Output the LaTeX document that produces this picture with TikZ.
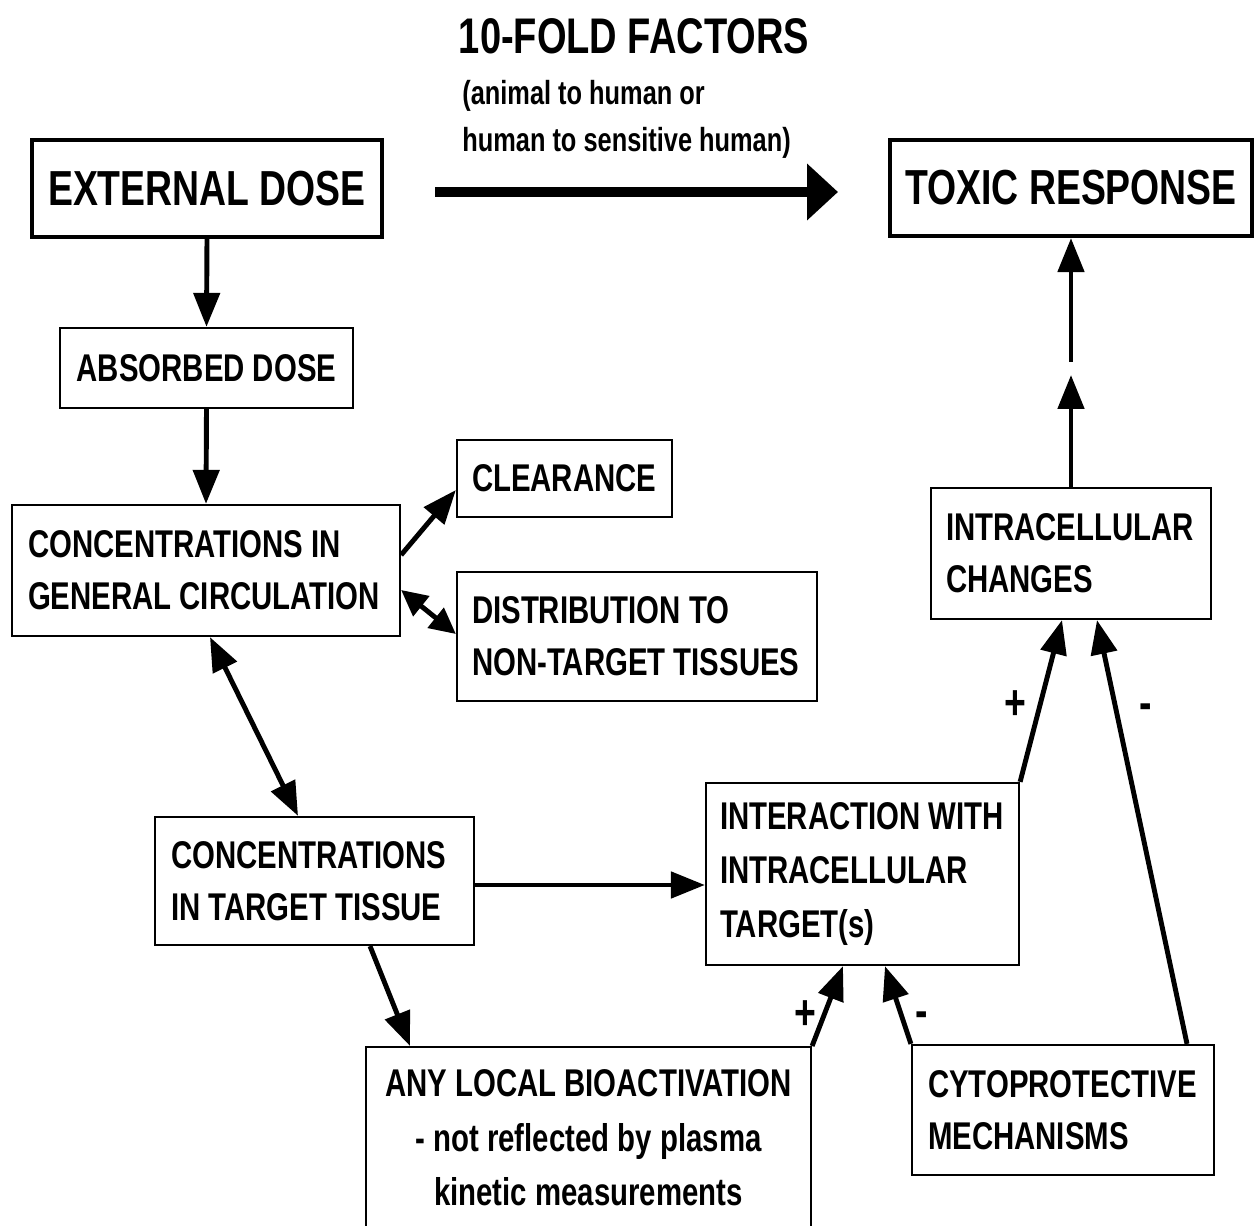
\documentclass[tikz,border=0pt]{standalone}
\usepackage{fontspec}
\setmainfont{Liberation Sans}[FakeStretch=0.76]
\usetikzlibrary{arrows.meta}
\begin{document}
\begin{tikzpicture}[x=0.02cm,y=-0.02cm,
  txt/.style={font=\bfseries\fontsize{22}{29.8}\selectfont},
  box/.style={txt, draw, line width=1.3pt, inner ysep=0pt},
  bigbox/.style={draw, line width=2.4pt, inner sep=0pt, font=\bfseries\fontsize{28}{34}\selectfont},
  arr/.style={line width=2.8pt, -{Triangle[length=0.68cm,width=0.52cm]}},
  darr/.style={line width=2.8pt, {Triangle[length=0.68cm,width=0.52cm]}-{Triangle[length=0.68cm,width=0.52cm]}},
  sdarr/.style={line width=2.8pt, {Triangle[length=0.52cm,width=0.5cm]}-{Triangle[length=0.52cm,width=0.5cm]}},
  sign/.style={font=\bfseries\fontsize{28}{30}\selectfont, inner sep=0pt}
]
\useasboundingbox (0,0) rectangle (1259,1226);

% title
\node[font=\bfseries\fontsize{28.5}{34}\selectfont, inner sep=0pt] (title) at (634,36) {10-FOLD FACTORS};
\node[anchor=north west, align=flush left, inner sep=0pt, font=\bfseries\fontsize{19}{26.7}\selectfont] (sub) at (462,80) {(animal to human or\\human to sensitive human)};

% boxes
\node[bigbox, minimum width=7cm, minimum height=1.94cm] (ext) at (207,188.5) {EXTERNAL DOSE};
\node[bigbox, minimum width=7.24cm, minimum height=1.92cm] (tox) at (1071,188) {TOXIC RESPONSE};
\node[box, inner xsep=0pt, minimum width=5.86cm, minimum height=1.6cm] (abs) at (206.5,368) {ABSORBED DOSE};
\node[box, inner xsep=0.32cm, text width=7.12cm, minimum height=2.62cm, align=flush left] (gen) at (206,570.5) {CONCENTRATIONS IN\\GENERAL CIRCULATION};
\node[box, inner xsep=0.3cm, text width=3.7cm, minimum height=1.54cm, align=flush left] (clr) at (564.5,478.5) {CLEARANCE};
\node[box, inner xsep=0.3cm, text width=6.6cm, minimum height=2.58cm, align=flush left] (dist) at (637,636.5) {DISTRIBUTION TO\\NON-TARGET TISSUES};
\node[box, inner xsep=0.32cm, text width=5.74cm, minimum height=2.56cm, align=flush left] (tgt) at (314.5,881) {CONCENTRATIONS\\IN TARGET TISSUE};
\node[box, inner xsep=0.28cm, text width=5.7cm, minimum height=3.64cm, align=flush left, font=\bfseries\fontsize{22}{30.5}\selectfont] (inter) at (862.5,874) {INTERACTION WITH\\INTRACELLULAR\\TARGET(s)};
\node[box, inner xsep=0.3cm, text width=5.0cm, minimum height=2.62cm, align=flush left] (chg) at (1071,553.5) {INTRACELLULAR\\CHANGES};
\node[box, inner xsep=0.32cm, text width=5.4cm, minimum height=2.6cm, align=flush left] (cyto) at (1063,1110) {CYTOPROTECTIVE\\MECHANISMS};
\node[box, anchor=north, inner xsep=0pt, inner ysep=0.45cm, text width=8.9cm, align=flush center, font=\bfseries\fontsize{22}{31}\selectfont] (bio) at (588.5,1046) {ANY LOCAL BIOACTIVATION\\- not reflected by plasma\\kinetic measurements\\\rule{0pt}{1.2cm}};

% big arrow
\coordinate (fa) at (435,192);
\coordinate (fb) at (838,192);
\draw[line width=6pt, -{Triangle[length=0.62cm,width=1.1cm]}] (fa) -- (fb);

% connectors
\draw[arr] (ext.south) -- (abs.north);
\draw[arr] (abs.south) -- (gen.north);
\draw[arr] (gen.east |- 0,555) -- (clr.west |- 0,490);
\draw[sdarr] (gen.east |- 0,590) -- (dist.west |- 0,634);
\draw[darr] (gen.south -| 210,0) -- (tgt.north -| 298,0);
\draw[arr] (tgt.east |- 0,885) -- (inter.west |- 0,885);
\draw[arr] (tgt.south -| 370,0) -- (bio.north -| 410,0);
\draw[arr] (bio.north east) -- (inter.south -| 843,0);
\draw[arr] (cyto.north west) -- (inter.south -| 885,0);
\draw[arr] (inter.north east) -- (chg.south -| 1062,0);
\draw[arr] (cyto.north -| 1187,0) -- (chg.south -| 1097,0);
\coordinate (m1) at (1071,375);
\coordinate (m2) at (1071,362);
\draw[arr] (chg.north) -- (m1);
\draw[arr] (m2) -- (tox.south);

% signs
\node[sign] (s1) at (1015,705) {+};
\node[sign] (s2) at (1146,712) {-};
\node[sign] (s3) at (805,1015) {+};
\node[sign] (s4) at (922,1020) {-};
\end{tikzpicture}
\end{document}
